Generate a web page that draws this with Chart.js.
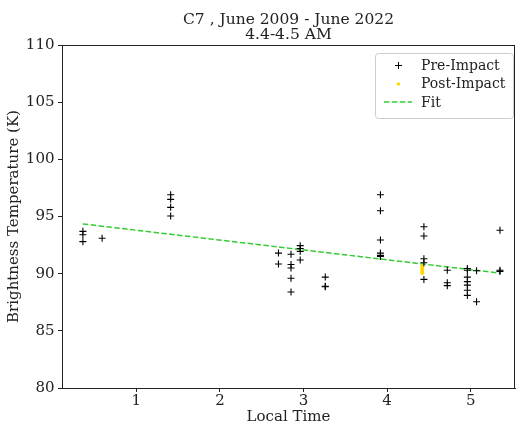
<!DOCTYPE html>
<html>
<head>
<meta charset="utf-8">
<script src="https://cdn.jsdelivr.net/npm/chart.js@4/dist/chart.umd.min.js"></script>
<style>
  html, body { margin: 0; padding: 0; background: #fff; }
  #wrap { width: 516px; height: 425px; }
</style>
</head>
<body>
<div id="wrap"><canvas id="grafica" width="516" height="425"></canvas></div>
<script>
/* ── Datos ── */
const preTime = [
  0.36, 0.36, 0.36, 0.59,
  1.41, 1.41, 1.41, 1.41,
  2.70, 2.70,
  2.85, 2.85, 2.85, 2.85, 2.85,
  2.96, 2.96, 2.96, 2.96,
  3.26, 3.26, 3.26,
  3.92, 3.92, 3.92, 3.92, 3.92, 3.92,
  4.44, 4.44, 4.44, 4.44, 4.44,
  4.72, 4.72, 4.72,
  4.96, 4.96, 4.96, 4.96, 4.96, 4.96, 4.96,
  5.07, 5.07,
  5.35, 5.35, 5.35
];
const preTemp = [
  93.7, 93.4, 92.8, 93.1,
  96.9, 96.5, 95.8, 95.05,
  91.8, 90.85,
  91.7, 90.8, 90.5, 89.6, 88.4,
  92.45, 92.2, 91.95, 91.2,
  89.7, 88.85, 88.9,
  96.9, 95.5, 92.95, 91.8, 91.6, 91.5,
  94.1, 93.3, 91.3, 90.95, 89.5,
  90.3, 89.2, 88.95,
  90.45, 90.3, 89.7, 89.3, 89.0, 88.55, 88.1,
  90.25, 87.55,
  93.8, 90.3, 90.2
];
const postTime = [4.42, 4.42, 4.42, 4.42];
const postTemp = [90.65, 90.45, 90.25, 90.05];
const fitTime = [0.36, 5.35];
const fitTemp = [94.35, 90.05];
const xTicks = [1, 2, 3, 4, 5];
const yTicks = [80, 85, 90, 95, 100, 105, 110];
const titleLines = ['C7 , June 2009 - June 2022', '4.4-4.5 AM'];

const FUENTE = "'DejaVu Serif', serif";
const pares = (xs, ys) => xs.map((x, i) => ({ x: x, y: ys[i] }));

/* ── Título centrado sobre el área, marco completo y leyenda estilo matplotlib ── */
const marcoYLeyenda = {
  id: 'marcoYLeyenda',
  afterDraw(chart) {
    const ctx = chart.ctx;
    const a = chart.chartArea;
    ctx.save();

    // título
    ctx.font = '15.5px ' + FUENTE;
    ctx.fillStyle = '#222';
    ctx.textAlign = 'center';
    ctx.textBaseline = 'middle';
    const cx = (a.left + a.right) / 2;
    titleLines.forEach((t, i) => ctx.fillText(t, cx, 19.5 + i * 15));
    ctx.textAlign = 'left';

    // marco
    ctx.strokeStyle = '#222';
    ctx.lineWidth = 1;
    ctx.strokeRect(a.left + 0.5, a.top + 0.5, a.right - a.left - 1, a.bottom - a.top);

    // leyenda
    const bx = 375, by = 53, bw = 138, bh = 65;
    ctx.beginPath();
    ctx.roundRect(bx + 0.5, by + 0.5, bw, bh, 3);
    ctx.fillStyle = 'rgba(255,255,255,0.8)';
    ctx.fill();
    ctx.strokeStyle = '#cccccc';
    ctx.stroke();

    const filas = [65, 83.5, 102];
    const mx = 398;
    ctx.font = '14px ' + FUENTE;
    chart.data.datasets.forEach((ds, i) => {
      const y = filas[i];
      ctx.fillStyle = '#222';
      ctx.fillText(ds.label, 421, y + 1);
      if (i === 0) {
        ctx.strokeStyle = '#000';
        ctx.beginPath();
        ctx.moveTo(mx - 3, y + 0.5); ctx.lineTo(mx + 4, y + 0.5);
        ctx.moveTo(mx + 0.5, y - 3); ctx.lineTo(mx + 0.5, y + 4);
        ctx.stroke();
      } else if (i === 1) {
        ctx.fillStyle = ds.backgroundColor;
        ctx.beginPath();
        ctx.arc(mx + 0.5, y + 0.5, 1.8, 0, Math.PI * 2);
        ctx.fill();
      } else {
        ctx.strokeStyle = ds.borderColor;
        ctx.lineWidth = 1.5;
        ctx.setLineDash(ds.borderDash);
        ctx.beginPath();
        ctx.moveTo(384, y); ctx.lineTo(412, y);
        ctx.stroke();
        ctx.setLineDash([]);
        ctx.lineWidth = 1;
      }
    });
    ctx.restore();
  }
};

new Chart(document.getElementById('grafica'), {
  type: 'scatter',
  data: {
    datasets: [
      {
        label: 'Pre-Impact',
        data: pares(preTime, preTemp),
        pointStyle: 'cross',
        pointRadius: 3.5,
        borderColor: '#000',
        borderWidth: 1.1,
        backgroundColor: '#000'
      },
      {
        label: 'Post-Impact',
        data: pares(postTime, postTemp),
        pointStyle: 'circle',
        pointRadius: 2,
        borderWidth: 0,
        backgroundColor: '#FFD700'
      },
      {
        label: 'Fit',
        type: 'line',
        data: pares(fitTime, fitTemp),
        borderColor: '#32CD32',
        borderWidth: 1.5,
        borderDash: [5.5, 2.4],
        pointRadius: 0,
        fill: false
      }
    ]
  },
  options: {
    responsive: false,
    animation: false,
    layout: { autoPadding: false, padding: { left: 0, right: 1, top: 45, bottom: 0 } },
    plugins: {
      legend: { display: false },
      tooltip: { enabled: false },
      title: { display: false }
    },
    scales: {
      x: {
        type: 'linear',
        min: 0.11,
        max: 5.53,
        afterFit: s => { s.height = 37; },
        afterBuildTicks: s => { s.ticks = xTicks.map(v => ({ value: v })); },
        grid: { drawOnChartArea: false, drawTicks: true, tickLength: 4, color: '#222' },
        border: { color: '#222' },
        ticks: { color: '#222', padding: 0, font: { family: FUENTE, size: 15 } },
        title: {
          display: true, text: 'Local Time', color: '#222',
          padding: { top: 0, bottom: 0 },
          font: { family: FUENTE, size: 15, lineHeight: 1.0 }
        }
      },
      y: {
        min: 80,
        max: 110,
        afterFit: s => { s.width = 62; },
        afterBuildTicks: s => { s.ticks = yTicks.map(v => ({ value: v })); },
        grid: { drawOnChartArea: false, drawTicks: true, tickLength: 4, color: '#222' },
        border: { color: '#222' },
        ticks: { color: '#222', padding: 3.5, font: { family: FUENTE, size: 15 } },
        title: {
          display: true, text: 'Brightness Temperature (K)', color: '#222',
          padding: { top: 7, bottom: 0 },
          font: { family: FUENTE, size: 15, lineHeight: 1.0 }
        }
      }
    }
  },
  plugins: [marcoYLeyenda]
});
</script>
</body>
</html>
